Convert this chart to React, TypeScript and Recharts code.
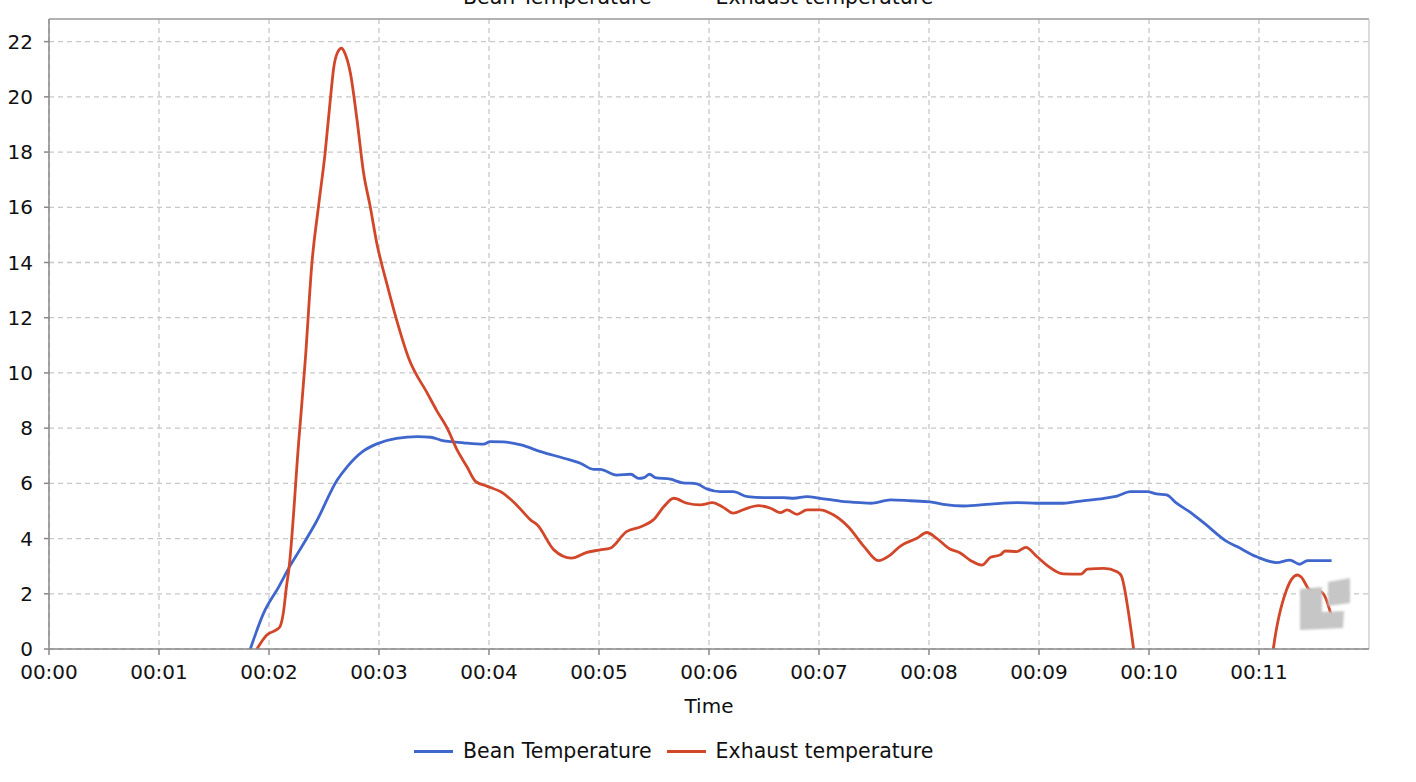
import { LineChart, Line, XAxis, YAxis, CartesianGrid, ReferenceLine, Label } from 'recharts';

// roast log, time in minutes
const beanTime = [
  1.83, 1.95, 2.09, 2.19, 2.28, 2.43, 2.62, 2.71, 2.85, 2.98, 3.16, 3.35, 3.47, 3.56, 3.77, 3.95,
  4.01, 4.13, 4.29, 4.47, 4.68, 4.83, 4.95, 5.01, 5.16, 5.29, 5.36, 5.41, 5.46, 5.51, 5.65, 5.75,
  5.89, 5.98, 6.1, 6.22, 6.35, 6.53, 6.68, 6.77, 6.89, 7.01, 7.19, 7.38, 7.47, 7.65, 7.83, 8.01,
  8.13, 8.32, 8.56, 8.8, 8.98, 9.22, 9.38, 9.59, 9.71, 9.83, 9.98, 10.07, 10.16, 10.25, 10.38,
  10.45, 10.51, 10.71, 10.8, 10.98, 11.16, 11.28, 11.37, 11.44, 11.66,
];
const beanTemp = [
  0, 1.29, 2.26, 3.0, 3.59, 4.61, 6.12, 6.6, 7.15, 7.43, 7.63, 7.69, 7.67, 7.57, 7.47, 7.42,
  7.51, 7.5, 7.39, 7.15, 6.91, 6.73, 6.51, 6.51, 6.3, 6.33, 6.18, 6.21, 6.33, 6.21, 6.15, 6.03,
  5.98, 5.8, 5.7, 5.7, 5.52, 5.48, 5.48, 5.46, 5.52, 5.46, 5.36, 5.3, 5.28, 5.4, 5.37, 5.33,
  5.24, 5.18, 5.25, 5.3, 5.28, 5.28, 5.36, 5.46, 5.54, 5.7, 5.7, 5.62, 5.58, 5.28, 4.94,
  4.72, 4.53, 3.89, 3.71, 3.34, 3.13, 3.22, 3.07, 3.2, 3.2,
];

const exhaustTime = [
  1.89, 1.98, 2.07, 2.1, 2.13, 2.16, 2.18, 2.27, 2.33, 2.39, 2.45, 2.51, 2.56, 2.59, 2.62, 2.66,
  2.69, 2.74, 2.8, 2.86, 2.92, 2.98, 3.07, 3.16, 3.27, 3.44, 3.53, 3.62, 3.71, 3.8, 3.88, 3.98,
  4.13, 4.25, 4.38, 4.44, 4.59, 4.75, 4.89, 5.01, 5.1, 5.25, 5.38, 5.5, 5.59, 5.68, 5.8, 5.92,
  6.03, 6.13, 6.22, 6.32, 6.45, 6.56, 6.65, 6.71, 6.8, 6.89, 7.01, 7.13, 7.27, 7.41, 7.54, 7.65,
  7.74, 7.89, 7.98, 8.07, 8.19, 8.28, 8.38, 8.48, 8.56, 8.65, 8.69, 8.8, 8.88, 8.98, 9.07, 9.22,
  9.38, 9.44, 9.59, 9.71, 9.75, 9.78, 9.81, 9.86, 9.95, 11.05, 11.13, 11.25, 11.35, 11.38, 11.47,
  11.56, 11.6, 11.66,
];
const exhaustTemp = [
  0, 0.51, 0.7, 0.81, 1.3, 2.3, 2.86, 7.5, 10.47, 13.97, 16.03, 17.96, 20.01, 21.1, 21.58, 21.76,
  21.58, 20.86, 19.17, 17.24, 16.03, 14.7, 13.25, 11.92, 10.53, 9.26, 8.6, 8.0, 7.21, 6.6, 6.06, 5.9,
  5.64, 5.22, 4.67, 4.49, 3.59, 3.29, 3.5, 3.59, 3.65, 4.25, 4.43, 4.7, 5.16, 5.46, 5.28, 5.22,
  5.3, 5.13, 4.92, 5.06, 5.19, 5.1, 4.94, 5.04, 4.88, 5.04, 5.04, 4.86, 4.41, 3.71, 3.2, 3.41,
  3.73, 4.01, 4.22, 4.01, 3.62, 3.49, 3.2, 3.04, 3.32, 3.41, 3.55, 3.53, 3.68, 3.35, 3.04, 2.72,
  2.71, 2.89, 2.92, 2.8, 2.64, 2.14, 1.41, 0, -3, -3, 0, 2.14, 2.68, 2.62, 2.11,
  2.08, 1.9, 1.17,
];

const minuteTicks = [0, 1, 2, 3, 4, 5, 6, 7, 8, 9, 10, 11];
const minuteLabels = ['00:00', '00:01', '00:02', '00:03', '00:04', '00:05', '00:06', '00:07', '00:08', '00:09', '00:10', '00:11'];
const tempTicks = [0, 2, 4, 6, 8, 10, 12, 14, 16, 18, 20, 22];
const seriesNames = ['Bean Temperature', 'Exhaust temperature'];

const BLUE = '#3f66cc';
const RED = '#d2472a';
const Y_MAX = 22.82;
const FONT = 20;

const beanData = beanTime.map((t, i) => ({ t, v: beanTemp[i] }));
const exhaustData = exhaustTime.map((t, i) => ({ t, v: exhaustTemp[i] }));

function LegendRow({ top }: { top: number }) {
  const items = [
    { name: seriesNames[0], color: BLUE },
    { name: seriesNames[1], color: RED },
  ];
  return (
    <div
      style={{
        position: 'absolute',
        left: 414,
        top,
        height: 24,
        display: 'flex',
        alignItems: 'center',
        fontSize: 20.5,
        color: '#111',
        whiteSpace: 'nowrap',
      }}
    >
      {items.map((it, i) => (
        <div key={it.name} style={{ display: 'flex', alignItems: 'center', marginRight: i === 0 ? 15 : 0 }}>
          <span style={{ display: 'inline-block', width: 39, height: 3, background: it.color, marginRight: 10 }} />
          <span>{it.name}</span>
        </div>
      ))}
    </div>
  );
}

export default function App() {
  return (
    <div
      style={{
        position: 'fixed',
        left: 0,
        top: 0,
        width: 1416,
        height: 782,
        overflow: 'hidden',
        background: '#fff',
        fontFamily: '"DejaVu Sans", sans-serif',
      }}
    >
      <LegendRow top={-15.5} />
      <LineChart
        width={1416}
        height={782}
        margin={{ top: 19, right: 47, bottom: 0, left: 0 }}
        style={{ fontFamily: '"DejaVu Sans", sans-serif' }}
      >
        <CartesianGrid stroke="#c8c8c8" strokeWidth={1.3} strokeDasharray="5 4" verticalValues={minuteTicks} horizontalValues={tempTicks} />
        <XAxis
          dataKey="t"
          type="number"
          domain={[0, 12]}
          ticks={minuteTicks}
          tickFormatter={(v: number) => minuteLabels[v] ?? ''}
          allowDataOverflow
          height={133}
          stroke="#888"
          strokeWidth={1.5}
          tickSize={6}
          tickMargin={10}
          tick={{ fill: '#111', fontSize: FONT }}
        >
          <Label value="Time" position="insideTop" offset={50} fill="#111" fontSize={FONT} />
        </XAxis>
        <YAxis
          type="number"
          domain={[0, Y_MAX]}
          ticks={tempTicks}
          allowDataOverflow
          width={49}
          stroke="#888"
          strokeWidth={1.5}
          tickSize={5}
          tickMargin={11}
          tick={{ fill: '#111', fontSize: FONT }}
        />
        <ReferenceLine y={Y_MAX} stroke="#999" strokeWidth={1.3} />
        <ReferenceLine x={12} stroke="#c8c8c8" strokeWidth={1.3} />
        <Line
          data={beanData}
          dataKey="v"
          name={seriesNames[0]}
          type="monotone"
          stroke={BLUE}
          strokeWidth={2.8}
          dot={false}
          isAnimationActive={false}
        />
        <Line
          data={exhaustData}
          dataKey="v"
          name={seriesNames[1]}
          type="monotone"
          stroke={RED}
          strokeWidth={2.8}
          dot={false}
          isAnimationActive={false}
        />
      </LineChart>
      <svg
        width={1416}
        height={782}
        style={{ position: 'absolute', left: 0, top: 0, pointerEvents: 'none' }}
      >
        <defs>
          <filter id="wm-blur" x="-20%" y="-20%" width="140%" height="140%">
            <feGaussianBlur stdDeviation="1" />
          </filter>
        </defs>
        <g fill="#c6c6c6" filter="url(#wm-blur)">
          <path d="M1300 589 L1322 587 L1322 612 L1344 611 L1343 628 L1300 630 Z" />
          <path d="M1328 582 L1350 578 L1350 603 L1328 606 Z" />
        </g>
      </svg>
      <LegendRow top={739} />
    </div>
  );
}
